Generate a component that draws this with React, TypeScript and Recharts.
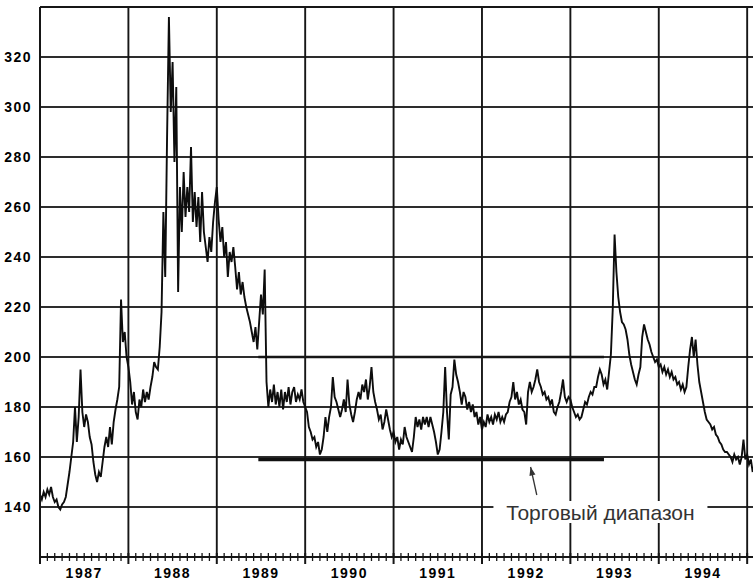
import { LineChart, Line, XAxis, YAxis, CartesianGrid, ReferenceLine, ReferenceDot } from "recharts";

const yearLabels = ["1987", "1988", "1989", "1990", "1991", "1992", "1993", "1994"];
const priceTicks = [140, 160, 180, 200, 220, 240, 260, 280, 300, 320];

// weekly-ish closes, 48 per year
const p1987 = [
  145, 143, 146, 144, 147, 145, 148, 144, 142, 143, 140, 139, 141, 142, 144, 149,
  154, 160, 166, 180, 166, 176, 195, 178, 172, 177, 174, 168, 165, 158, 153, 150,
  154, 152, 158, 164, 168, 164, 172, 165, 174, 179, 183, 188, 223, 206, 210, 200,
];
const p1988 = [
  196, 190, 181, 186, 178, 175, 183, 180, 187, 182, 186, 183, 188, 192, 198, 196,
  195, 204, 218, 258, 232, 288, 336, 298, 318, 278, 308, 226, 268, 250, 274, 256,
  268, 258, 284, 254, 266, 252, 264, 246, 266, 250, 244, 238, 248, 242, 254, 262,
];
const p1989 = [
  268, 255, 246, 252, 240, 246, 232, 242, 238, 244, 236, 227, 234, 225, 230, 224,
  220, 217, 214, 210, 206, 212, 203, 214, 225, 217, 235, 190, 180, 187, 182, 189,
  181, 186, 180, 187, 179, 186, 182, 188, 181, 186, 188, 182, 185, 183, 187, 182,
];
const p1990 = [
  180, 178, 172, 170, 167, 168, 164, 166, 161, 163, 168, 176, 170, 176, 180, 192,
  184, 182, 179, 176, 179, 183, 178, 191, 181, 177, 174, 178, 183, 186, 183, 189,
  186, 191, 183, 188, 196, 186, 182, 179, 175, 177, 171, 174, 179, 175, 171, 168,
];
const p1991 = [
  170, 166, 168, 163, 167, 165, 172, 168, 166, 164, 162, 168, 176, 172, 175, 171,
  176, 173, 176, 172, 176, 173, 170, 166, 161, 163, 170, 178, 196, 178, 167, 185,
  188, 199, 193, 190, 186, 181, 186, 184, 179, 182, 178, 181, 176, 178, 173, 176,
];
const p1992 = [
  171, 174, 172, 177, 174, 176, 173, 177, 175, 178, 174, 176, 174, 177, 178, 182,
  184, 190, 183, 186, 181, 183, 179, 178, 173, 186, 190, 186, 188, 191, 195, 190,
  188, 185, 186, 183, 184, 181, 183, 178, 177, 180, 182, 186, 191, 184, 182, 184,
];
const p1993 = [
  183, 180, 178, 176, 177, 175, 176, 179, 182, 181, 184, 186, 185, 188, 188, 192,
  195, 193, 189, 191, 187, 194, 201, 219, 249, 234, 224, 218, 214, 213, 211, 207,
  201, 197, 194, 191, 189, 193, 196, 208, 213, 210, 207, 205, 202, 200, 198, 199,
];
const p1994 = [
  196, 197, 194, 196, 193, 195, 192, 194, 191, 192, 189, 190, 187, 189, 186, 188,
  196, 203, 208, 200, 207, 197, 190, 186, 182, 178, 175, 174, 173, 171, 172, 169,
  168, 166, 165, 163, 162, 162, 161, 160, 158, 161, 159, 160, 157, 160, 167, 159,
];
const p1995 = [161, 157, 159, 154];

const yearSeries = [p1987, p1988, p1989, p1990, p1991, p1992, p1993, p1994, p1995];

// trading range annotation
const rangeStart = 1989.47;
const rangeEnd = 1993.38;
const rangeLow = 159;
const rangeHigh = 200;
const rangeLabel = "Торговый диапазон";
const arrowFrom = { x: 1992.62, y: 144.8 };
const arrowTo = { x: 1992.55, y: 156 };
const labelAt = { x: 1993.34, y: 140 };

const data = yearSeries.flatMap((arr, k) =>
  arr.map((price, i) => ({ t: 1987 + k + i / 48, price }))
);

const monthTicks = Array.from({ length: yearLabels.length * 12 + 1 }, (_, m) => 1987 + m / 12);
const yearLines = yearLabels.map((_, k) => 1988 + k);

const FONT = "'Liberation Sans', Arial, sans-serif";
const INK = "#161616";

function MonthTick(props: any) {
  const { x, y, payload } = props;
  const m = Math.round((payload.value - 1987) * 12);
  const isYear = m % 12 === 0;
  const label = m % 12 === 6 ? yearLabels[(m - 6) / 12] : null;
  return (
    <g>
      <line x1={x} x2={x} y1={y - 4} y2={y + (isYear ? 7 : 4)} stroke={INK} strokeWidth={isYear ? 2 : 1.3} />
      {label && (
        <text x={x} y={y + 21} textAnchor="middle" fill="#000" fontSize={14} fontWeight={700}
          fontFamily={FONT} letterSpacing={1.5}>
          {label}
        </text>
      )}
    </g>
  );
}

function PriceTick(props: any) {
  const { x, y, payload } = props;
  return (
    <text x={x} y={y + 5} textAnchor="end" fill="#000" fontSize={14} fontWeight={700}
      fontFamily={FONT} letterSpacing={1.5}>
      {payload.value}
    </text>
  );
}

function Arrow(props: any) {
  const { x1, y1, x2, y2 } = props;
  const ang = Math.atan2(y2 - y1, x2 - x1);
  const len = 9;
  const spread = 0.35;
  const ax = x2 - len * Math.cos(ang - spread);
  const ay = y2 - len * Math.sin(ang - spread);
  const bx = x2 - len * Math.cos(ang + spread);
  const by = y2 - len * Math.sin(ang + spread);
  return (
    <g>
      <line x1={x1} y1={y1} x2={x2} y2={y2} stroke="#333" strokeWidth={1.3} />
      <polygon points={`${x2},${y2} ${ax},${ay} ${bx},${by}`} fill="#333" />
    </g>
  );
}

function RangeLabel(props: any) {
  const { cx, cy } = props;
  return (
    <g>
      <rect x={cx - 107} y={cy - 6} width={214} height={22} fill="#fff" />
      <text x={cx} y={cy + 13} textAnchor="middle" fill="#333" fontSize={21} fontFamily={FONT}>
        {rangeLabel}
      </text>
    </g>
  );
}

export default function App() {
  return (
    <div style={{ position: "absolute", left: 0, top: 0, width: 753, height: 583, background: "#fff" }}>
      <LineChart width={753} height={583} data={data} margin={{ top: 7, right: 0, bottom: 0, left: 0 }}>
        <CartesianGrid vertical={false} stroke={INK} strokeWidth={1.8} strokeOpacity={0.9} />
        {yearLines.map((yr) => (
          <ReferenceLine key={yr} x={yr} stroke={INK} strokeWidth={1.9} />
        ))}
        <ReferenceLine y={340} stroke={INK} strokeWidth={1.9} />
        <XAxis
          dataKey="t"
          type="number"
          domain={[1987, 1995.066]}
          allowDataOverflow
          ticks={monthTicks}
          interval={0}
          tick={<MonthTick />}
          tickLine={false}
          tickSize={0}
          tickMargin={0}
          height={26}
          axisLine={{ stroke: INK, strokeWidth: 2 }}
        />
        <YAxis
          type="number"
          domain={[120, 340]}
          ticks={priceTicks}
          interval={0}
          width={40}
          tick={<PriceTick />}
          tickLine={false}
          tickSize={0}
          tickMargin={8}
          axisLine={{ stroke: INK, strokeWidth: 2 }}
        />
        <ReferenceLine
          segment={[{ x: rangeStart, y: rangeHigh }, { x: rangeEnd, y: rangeHigh }]}
          stroke={INK}
          strokeWidth={2.4}
        />
        <ReferenceLine
          segment={[{ x: rangeStart, y: rangeLow }, { x: rangeEnd, y: rangeLow }]}
          stroke="#111"
          strokeWidth={3.5}
        />
        <ReferenceLine segment={[arrowFrom, arrowTo]} shape={<Arrow />} />
        <ReferenceDot x={labelAt.x} y={labelAt.y} r={0} shape={<RangeLabel />} />
        <Line
          type="linear"
          dataKey="price"
          stroke="#0d0d0d"
          strokeWidth={1.9}
          dot={false}
          isAnimationActive={false}
        />
      </LineChart>
    </div>
  );
}
